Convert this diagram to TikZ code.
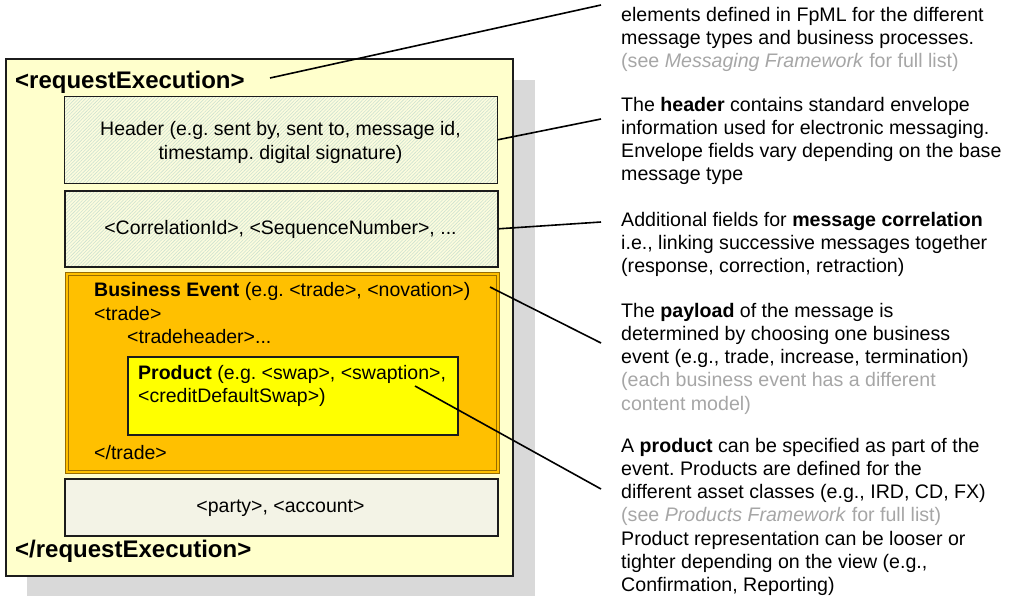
\documentclass[tikz,border=0pt]{standalone}
\usepackage{fontspec}
\setmainfont{Liberation Sans}
\usetikzlibrary{patterns.meta}
\frenchspacing

\definecolor{pagebg}{RGB}{255,255,204}
\definecolor{shadowgray}{RGB}{217,217,217}
\definecolor{hatchbg}{RGB}{252,252,222}
\definecolor{hatchline}{RGB}{205,226,208}
\definecolor{eventorange}{RGB}{255,192,0}
\definecolor{eventedge}{RGB}{150,108,0}
\definecolor{productyellow}{RGB}{255,255,0}
\definecolor{partybg}{RGB}{243,243,230}
\definecolor{notegray}{RGB}{166,166,166}
\definecolor{edge}{RGB}{28,28,28}

\tikzset{
  frame/.style={draw=edge, line width=1.6pt, inner sep=0pt, anchor=north west},
  hatchbox/.style={frame, preaction={fill=hatchbg},
    pattern={Lines[angle=45,distance=2.4pt,line width=0.6pt]}, pattern color=hatchline},
  boxtext/.style={font=\fontsize{19.5}{24}\selectfont, inner sep=0pt},
  linetext/.style={boxtext, anchor=base west},
  % multi-line notes: the base anchor sits on the last line
  notetext/.style={font=\fontsize{19.6}{23.3}\selectfont, inner sep=0pt,
    anchor=base west, align=left},
  tagtext/.style={font=\fontsize{24}{28}\selectfont\bfseries, inner sep=0pt,
    anchor=base west},
  callout/.style={draw=black, line width=1.6pt},
}

\begin{document}
\begin{tikzpicture}[x=1pt, y=-1pt]
\useasboundingbox (0,0) rectangle (1010,595);

% drop shadow behind the message frame
\fill[shadowgray] (27,80) rectangle (535,600);

% message frame
\node (msg) [frame, line width=1.8pt, fill=pagebg, minimum width=507pt, minimum height=517pt] at (5,58) {};
\node (open) [tagtext] at (15,88.5) {<requestExecution>};
\node (close) [tagtext] at (15,557) {</requestExecution>};

% header block
\node (hdr) [hatchbox, minimum width=433pt, minimum height=87pt] at (64,96) {};
\node (hdrtxt) [boxtext, align=center] at (280.5,142) {Header (e.g. sent by, sent to, message id,\\timestamp. digital signature)};

% correlation block
\node (corr) [hatchbox, minimum width=433pt, minimum height=76pt] at (64,190) {};
\node (corrtxt) [boxtext, anchor=base] at (280.5,234.5) {<CorrelationId>, <SequenceNumber>, ...};

% business event block
\node (event) [draw=eventedge, line width=1pt, double=eventorange, double distance=1.6pt,
  fill=eventorange, inner sep=0pt, anchor=north west,
  minimum width=431pt, minimum height=198pt] at (66.5,273.5) {};
\node (ev1) [linetext] at (94,296.5) {\textbf{Business Event} (e.g. <trade>, <novation>)};
\node (ev2) [linetext] at (94,320) {<trade>};
\node (ev3) [linetext] at (127,343) {<tradeheader>...};
\node (ev4) [linetext] at (94,459) {</trade>};

% product block
\node (prod) [frame, fill=productyellow, minimum width=330pt, minimum height=78pt] at (127,356) {};
\node (prod1) [linetext] at (138,379) {\textbf{Product} (e.g. <swap>, <swaption>,};
\node (prod2) [linetext] at (138,402.5) {<creditDefaultSwap>)};

% party block
\node (party) [frame, fill=partybg, minimum width=433pt, minimum height=57pt] at (64,478) {};
\node (partytxt) [boxtext, anchor=base] at (280.5,512.5) {<party>, <account>};

% notes on the right (positioned by the baseline of their last line)
\node (note1) [notetext] at (621,67.6) {elements defined in FpML for the different\\
  message types and business processes.\\
  {\color{notegray}(see \textit{Messaging Framework} for full list)}};
\node (note2) [notetext] at (621,180.9) {The \textbf{header} contains standard envelope\\
  information used for electronic messaging.\\
  Envelope fields vary depending on the base\\
  message type};
\node (note3) [notetext] at (621,272.6) {Additional fields for \textbf{message correlation}\\
  i.e., linking successive messages together\\
  (response, correction, retraction)};
\node (note4) [notetext] at (621,410.2) {The \textbf{payload} of the message is\\
  determined by choosing one business\\
  event (e.g., trade, increase, termination)\\
  {\color{notegray}(each business event has a different}\\
  {\color{notegray}content model)}};
\node (note5) [notetext] at (621,591.8) {A \textbf{product} can be specified as part of the\\
  event. Products are defined for the\\
  different asset classes (e.g., IRD, CD, FX)\\
  {\color{notegray}(see \textit{Products Framework} for full list)}\\
  Product representation can be looser or\\
  tighter depending on the view (e.g.,\\
  Confirmation, Reporting)};

% callout lines
\coordinate (c1a) at (270,78);
\coordinate (c1b) at (601,5);
\coordinate (c2b) at (601,119);
\coordinate (c3b) at (601,222);
\coordinate (c4a) at (490,287);
\coordinate (c4b) at (601,343);
\coordinate (c5a) at (415,386);
\coordinate (c5b) at (601,489);
\draw[callout] (c1a) -- (c1b);
\draw[callout] (hdr.east) -- (c2b);
\draw[callout] (corr.east) -- (c3b);
\draw[callout] (c4a) -- (c4b);
\draw[callout] (c5a) -- (c5b);
\end{tikzpicture}
\end{document}
